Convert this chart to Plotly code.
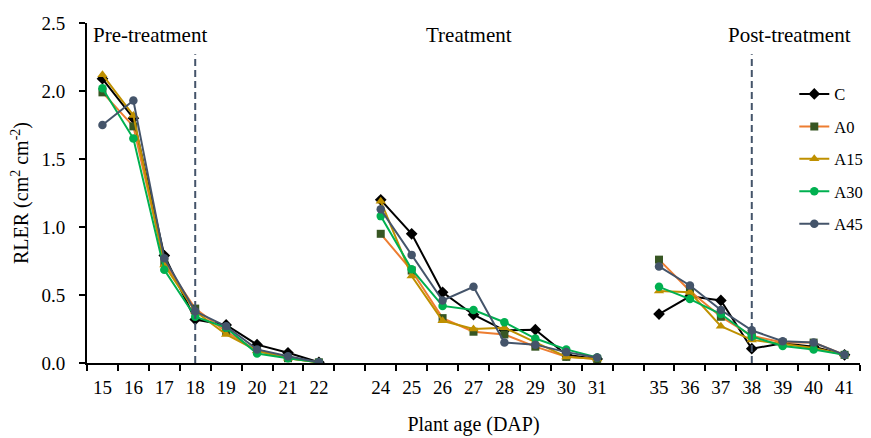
import plotly.graph_objects as go

# ---- data ----
categories = ["15", "16", "17", "18", "19", "20", "21", "22", "",
              "24", "25", "26", "27", "28", "29", "30", "31", " ",
              "35", "36", "37", "38", "39", "40", "41"]
dap_pre = [15, 16, 17, 18, 19, 20, 21, 22]
dap_trt = [24, 25, 26, 27, 28, 29, 30, 31]
dap_post = [35, 36, 37, 38, 39, 40, 41]

C_pre = [2.09, 1.80, 0.79, 0.32, 0.28, 0.135, 0.075, 0.005]
C_trt = [1.20, 0.95, 0.52, 0.355, 0.24, 0.245, 0.06, 0.03]
C_post = [0.36, 0.49, 0.46, 0.105, 0.145, 0.12, 0.06]

A0_pre = [1.99, 1.74, 0.74, 0.40, 0.23, 0.09, 0.035, 0.005]
A0_trt = [0.95, 0.68, 0.33, 0.23, 0.21, 0.12, 0.045, 0.03]
A0_post = [0.76, 0.53, 0.34, 0.20, 0.15, 0.15, 0.06]

A15_pre = [2.12, 1.82, 0.72, 0.38, 0.21, 0.09, 0.035, 0.005]
A15_trt = [1.19, 0.64, 0.31, 0.25, 0.26, 0.15, 0.045, 0.03]
A15_post = [0.53, 0.52, 0.27, 0.17, 0.14, 0.11, 0.06]

A30_pre = [2.02, 1.65, 0.685, 0.34, 0.26, 0.07, 0.035, 0.005]
A30_trt = [1.08, 0.69, 0.42, 0.39, 0.30, 0.18, 0.10, 0.04]
A30_post = [0.56, 0.47, 0.36, 0.195, 0.125, 0.10, 0.06]

A45_pre = [1.75, 1.93, 0.77, 0.38, 0.27, 0.10, 0.05, 0.005]
A45_trt = [1.13, 0.795, 0.46, 0.56, 0.15, 0.135, 0.08, 0.04]
A45_post = [0.71, 0.57, 0.39, 0.24, 0.16, 0.15, 0.06]

y_ticks = [0.0, 0.5, 1.0, 1.5, 2.0, 2.5]
phase_labels = ["Pre-treatment", "Treatment", "Post-treatment"]
divider_days = [18, 38]

# ---- helpers ----
def pos(d):
    return categories.index(str(d))

def join(pre, trt, post):
    xs, ys = [], []
    for days, vals in ((dap_pre, pre), (dap_trt, trt), (dap_post, post)):
        xs += [pos(d) for d in days] + [None]
        ys += list(vals) + [None]
    return xs, ys

series = [
    ("C", (C_pre, C_trt, C_post), "#000000", "#000000", "diamond", 9),
    ("A0", (A0_pre, A0_trt, A0_post), "#ED7D31", "#375623", "square", 8),
    ("A15", (A15_pre, A15_trt, A15_post), "#BF9000", "#BF9000", "triangle-up", 9),
    ("A30", (A30_pre, A30_trt, A30_post), "#00B050", "#00B050", "circle", 8.5),
    ("A45", (A45_pre, A45_trt, A45_post), "#44546A", "#44546A", "circle", 8.5),
]

FONT = "Liberation Serif"

fig = go.Figure()
for name, vals, lc, mc, sym, ms in series:
    xs, ys = join(*vals)
    fig.add_trace(go.Scatter(
        x=xs, y=ys, name=name, mode="lines+markers", legendgroup=name,
        line=dict(color=lc, width=2),
        marker=dict(color=mc, symbol=sym, size=ms),
        connectgaps=False,
    ))

for d in divider_days:
    fig.add_shape(type="line", x0=pos(d), x1=pos(d), y0=0, y1=2.27,
                  xref="x", yref="y",
                  line=dict(color="#44546A", width=2, dash="7px,4px"))

ann_x = [1.54, 11.85, 22.22]
for lab, ax in zip(phase_labels, ann_x):
    fig.add_annotation(x=ax, y=2.41, xref="x", yref="y", text=lab,
                       xanchor="center", yanchor="middle",
                       showarrow=False, font=dict(family=FONT, size=21, color="#000"))

n = len(categories)
fig.update_layout(
    width=863, height=430,
    margin=dict(l=79, r=3, t=15, b=75),
    paper_bgcolor="white", plot_bgcolor="white",
    font=dict(family=FONT, size=19, color="#000"),
    showlegend=True,
    legend=dict(x=0.915, y=0.842, xanchor="left", yanchor="top",
                font=dict(family=FONT, size=16.5),
                bgcolor="rgba(0,0,0,0)", tracegroupgap=8,
                traceorder="grouped"),
    xaxis=dict(
        range=[-0.5, n - 0.5], automargin=False,
        tickmode="array", tickvals=list(range(n)), ticktext=categories,
        ticks="", showgrid=False, zeroline=False,
        showline=True, linecolor="#000", linewidth=2,
        ticklabelstandoff=6,
        tickfont=dict(family=FONT, size=19),
        minor=dict(tickmode="array", tickvals=[i - 0.5 for i in range(n + 1)],
                   ticks="outside", ticklen=6, tickwidth=2, tickcolor="#000",
                   showgrid=False),
        title=dict(text="Plant age (DAP)", font=dict(family=FONT, size=20), standoff=20),
    ),
    yaxis=dict(
        range=[0, 2.5], automargin=False,
        tickmode="array", tickvals=y_ticks,
        ticktext=[f"{v:.1f}" for v in y_ticks],
        ticks="outside", ticklen=6, tickwidth=2, tickcolor="#000",
        ticklabelstandoff=10,
        showgrid=False, zeroline=False,
        showline=True, linecolor="#000", linewidth=2,
        tickfont=dict(family=FONT, size=19),
        title=dict(text="RLER (cm<sup>2</sup> cm<sup>-2</sup>)",
                   font=dict(family=FONT, size=20), standoff=8),
    ),
)

fig.write_html("out.html")
